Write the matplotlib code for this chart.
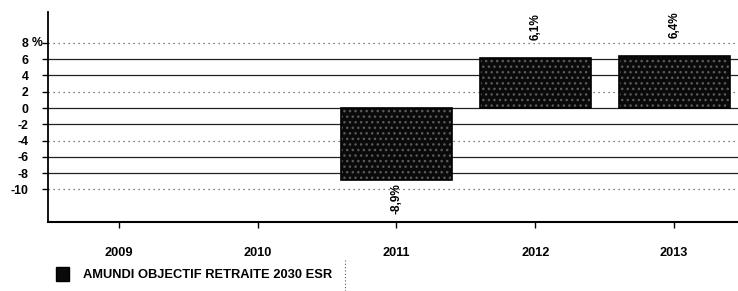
import matplotlib
matplotlib.use("Agg")
import matplotlib.pyplot as plt
import matplotlib.transforms as mtransforms
from matplotlib.lines import Line2D
from matplotlib.patches import Patch

years = ["2009", "2010", "2011", "2012", "2013"]
values = [None, None, -8.9, 6.1, 6.4]
value_labels = ["", "", "-8,9%", "6,1%", "6,4%"]
series_name = "AMUNDI OBJECTIF RETRAITE 2030 ESR"
yticks = [8, 6, 4, 2, 0, -2, -4, -6, -8, -10]
ytick_labels = ["8", "6", "4", "2", "0", "-2", "-4", "-6", "-8", "-10"]

plt.rcParams['font.family'] = ['Liberation Sans', 'DejaVu Sans']

W, H = 738, 291
fig = plt.figure(figsize=(W / 100, H / 100), dpi=100)
ax = fig.add_axes([48 / W, 1 - 222 / H, 1 - 48 / W, (222 - 12) / H])

ax.set_ylim(-14, 11.8)
ax.set_xlim(-0.51, 4.46)

# gridlines
grid_styles = {8: ':', 6: '-', 4: '-', 2: ':', 0: '-', -2: '-', -4: ':', -6: '-', -8: '-', -10: ':'}
for t in yticks:
    if grid_styles[t] == ':':
        ax.axhline(t, color='#555555', lw=0.9, ls=(0, (1, 3)), zorder=1)
    else:
        ax.axhline(t, color='#222222', lw=0.9, ls='-', zorder=1)

xs = list(range(len(years)))
bx = [x for x, v in zip(xs, values) if v is not None]
bv = [v for v in values if v is not None]
ax.bar(bx, bv, width=0.8, color='#0a0a0a', edgecolor='#5a5a5a', hatch='...',
       linewidth=0, zorder=3, label=series_name)
ax.bar(bx, bv, width=0.8, fill=False, edgecolor='#000000', linewidth=1.2, zorder=4)

for x, v, lab in zip(xs, values, value_labels):
    if v is None:
        continue
    if v >= 0:
        ax.annotate(lab, (x, v), xytext=(0, 13), textcoords='offset points',
                    rotation=90, ha='center', va='bottom', fontsize=8.5, fontweight='bold')
    else:
        ax.annotate(lab, (x, v), xytext=(0, -2), textcoords='offset points',
                    rotation=90, ha='center', va='top', fontsize=8.5, fontweight='bold')

ax.set_xticks(xs)
ax.set_xticklabels(years, fontsize=9.2, fontweight='bold')
ax.set_yticks(yticks)
ax.set_yticklabels(ytick_labels, fontsize=8.8, fontweight='bold')
ax.tick_params(axis='y', direction='out', length=4, width=1, pad=10)
ax.tick_params(axis='x', direction='out', length=4, width=1, pad=14)
pct_tr = (mtransforms.blended_transform_factory(ax.transAxes, ax.transData)
          + mtransforms.ScaledTranslation(-5 / 100, 0, fig.dpi_scale_trans))
ax.text(0, 8, "%", transform=pct_tr, ha='right', va='center',
        fontsize=8.8, fontweight='bold')

for s in ['top', 'right']:
    ax.spines[s].set_visible(False)
ax.spines['left'].set_linewidth(1.3)
ax.spines['bottom'].set_linewidth(1.5)

fig.legend([Patch(facecolor='#0a0a0a', edgecolor='#000000')], [series_name],
           loc='center left', bbox_to_anchor=(44 / W, 1 - 274 / H), frameon=False,
           handlelength=1.0, handleheight=1.3, handletextpad=1.1,
           prop={'size': 9.3, 'weight': 'bold'})

fig.add_artist(Line2D([345 / W, 345 / W], [0, 1 - 260 / H], transform=fig.transFigure,
                      color='#555555', lw=0.8, ls=(0, (1, 2))))

fig.savefig("out.png", dpi=100)
